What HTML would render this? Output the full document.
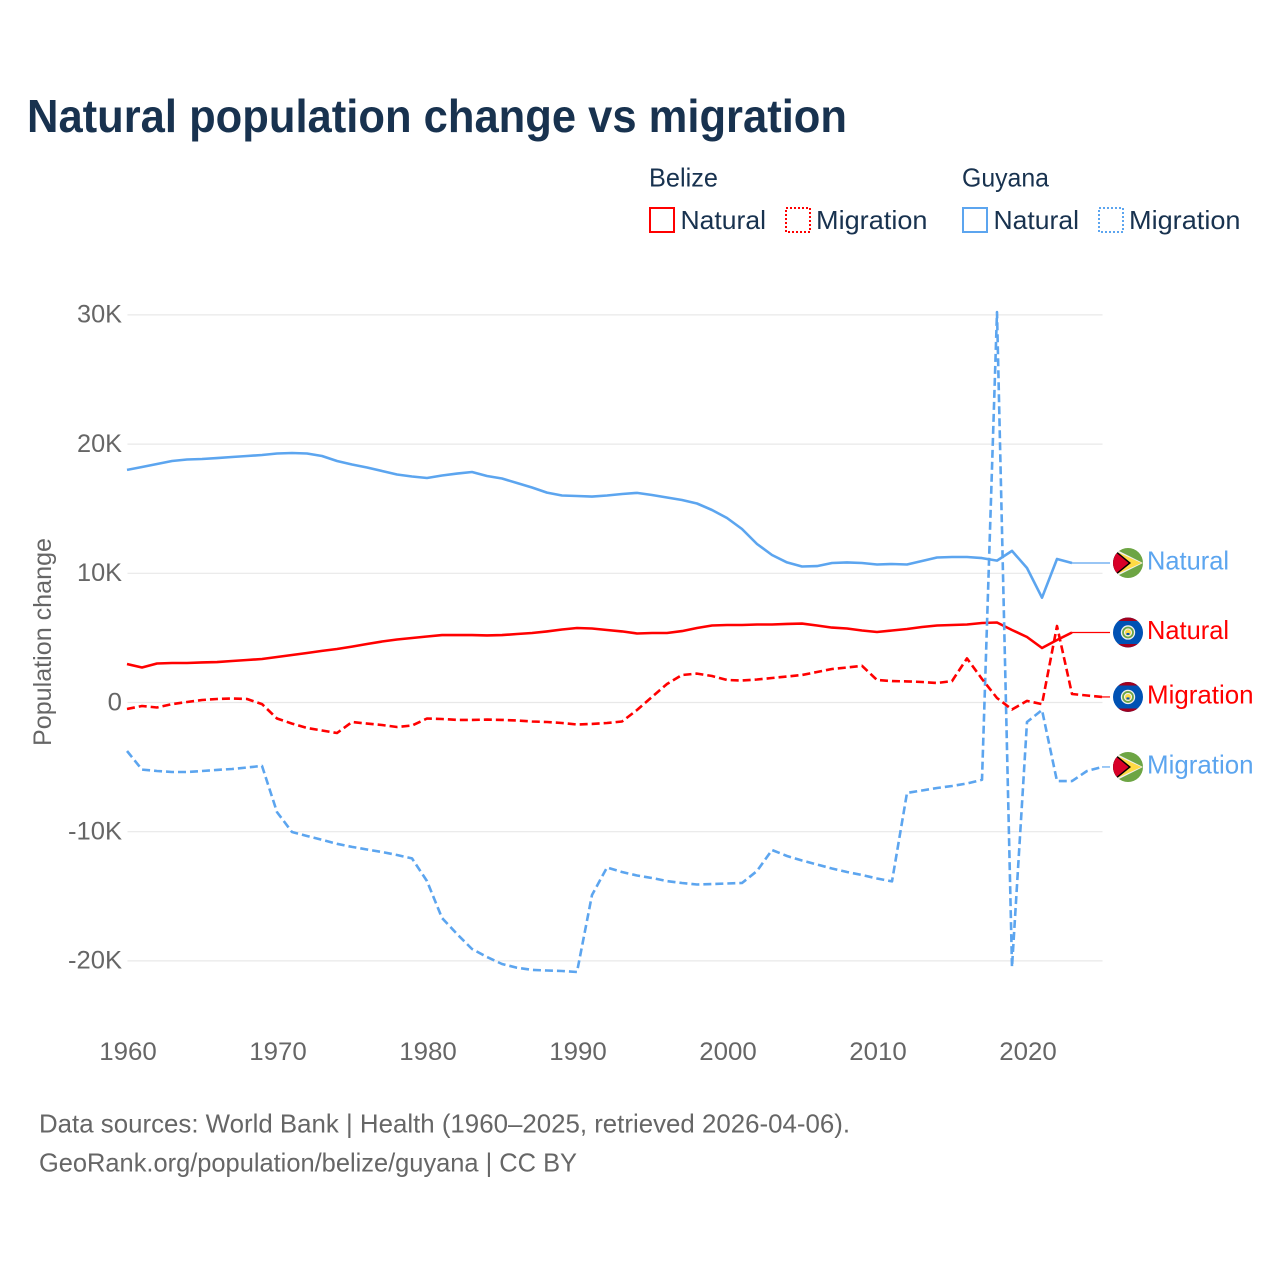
<!DOCTYPE html>
<html lang="en">
<head>
<meta charset="utf-8">
<title>Natural population change vs migration</title>
<style>
html,body{margin:0;padding:0;background:#fff;width:1280px;height:1280px;overflow:hidden}
svg{display:block}
text{font-family:"Liberation Sans",sans-serif}
</style>
</head>
<body>
<svg id="chart" xmlns="http://www.w3.org/2000/svg" width="1280" height="1280" viewBox="0 0 1280 1280">
  <rect width="1280" height="1280" fill="#fff"/>
  <text x="27" y="132" font-size="46" font-weight="700" fill="#18324f" textLength="820" lengthAdjust="spacingAndGlyphs">Natural population change vs migration</text>

  <g font-size="26" fill="#18324f">
    <text x="649" y="186.5" textLength="69" lengthAdjust="spacingAndGlyphs">Belize</text>
    <text x="962" y="186.5" textLength="87" lengthAdjust="spacingAndGlyphs">Guyana</text>
    <g>
      <rect x="650" y="208" width="24" height="24" fill="none" stroke="#ff0000" stroke-width="2"/>
      <text x="680.5" y="229" textLength="85.5" lengthAdjust="spacingAndGlyphs">Natural</text>
    </g>
    <g>
      <rect x="786" y="208" width="24" height="24" fill="none" stroke="#ff0000" stroke-width="2" stroke-dasharray="2 2"/>
      <text x="816" y="229" textLength="111.5" lengthAdjust="spacingAndGlyphs">Migration</text>
    </g>
    <g>
      <rect x="963" y="208" width="24" height="24" fill="none" stroke="#5ca5ef" stroke-width="2"/>
      <text x="993.5" y="229" textLength="85.5" lengthAdjust="spacingAndGlyphs">Natural</text>
    </g>
    <g>
      <rect x="1099" y="208" width="24" height="24" fill="none" stroke="#5ca5ef" stroke-width="2" stroke-dasharray="2 2"/>
      <text x="1129" y="229" textLength="111.5" lengthAdjust="spacingAndGlyphs">Migration</text>
    </g>
  </g>

  <g id="y-grid"></g>
  <g id="y-ticks"></g>
  <g id="x-ticks"></g>
  <text transform="translate(51 642) rotate(-90)" text-anchor="middle" font-size="25" fill="#666" textLength="208" lengthAdjust="spacingAndGlyphs">Population change</text>
  <g id="series"></g>
  <g id="end-labels"></g>

  <g font-size="26" fill="#666">
    <text x="39" y="1132.5" textLength="811" lengthAdjust="spacingAndGlyphs">Data sources: World Bank | Health (1960–2025, retrieved 2026-04-06).</text>
    <text x="39" y="1171.5" textLength="538" lengthAdjust="spacingAndGlyphs">GeoRank.org/population/belize/guyana | CC BY</text>
  </g>
</svg>

<script>
var startYear = 1960;
var xTickYears = [1960, 1970, 1980, 1990, 2000, 2010, 2020];
var yTickValues = [30, 20, 10, 0, -10, -20];
var yTickLabels = ['30K', '20K', '10K', '0', '-10K', '-20K'];

var guyanaNatural = [
  18.0, 18.23, 18.46, 18.69, 18.81, 18.85, 18.92, 19.0, 19.08, 19.16,
  19.27, 19.31, 19.27, 19.08, 18.69, 18.42, 18.19, 17.92, 17.65, 17.49,
  17.38, 17.57, 17.72, 17.84, 17.53, 17.34, 16.99, 16.64, 16.25, 16.02,
  15.98, 15.94, 16.02, 16.14, 16.22, 16.06, 15.87, 15.67, 15.40, 14.90,
  14.28, 13.43, 12.27, 11.42, 10.84, 10.53, 10.56, 10.80, 10.84, 10.80,
  10.68, 10.72, 10.68, 10.95, 11.22, 11.26, 11.26, 11.18, 10.98, 11.73,
  10.41, 8.11, 11.11, 10.80
];
var belizeNatural = [
  2.98, 2.71, 3.02, 3.06, 3.06, 3.10, 3.13, 3.21, 3.29, 3.37,
  3.52, 3.68, 3.83, 3.99, 4.14, 4.33, 4.53, 4.72, 4.88, 4.99,
  5.11, 5.22, 5.22, 5.22, 5.19, 5.22, 5.30, 5.38, 5.50, 5.65,
  5.77, 5.73, 5.61, 5.50, 5.34, 5.38, 5.38, 5.53, 5.77, 5.96,
  6.0, 6.0, 6.04, 6.04, 6.08, 6.11, 5.96, 5.80, 5.73, 5.57,
  5.46, 5.57, 5.69, 5.84, 5.96, 6.0, 6.04, 6.15, 6.19, 5.61,
  5.07, 4.22, 4.84, 5.42
];
var belizeMigration = [
  -0.50, -0.27, -0.39, -0.12, 0.04, 0.19, 0.27, 0.31, 0.27, -0.12,
  -1.24, -1.63, -1.97, -2.17, -2.36, -1.51, -1.63, -1.74, -1.90, -1.78,
  -1.24, -1.28, -1.35, -1.35, -1.32, -1.35, -1.39, -1.47, -1.51, -1.59,
  -1.70, -1.66, -1.59, -1.47, -0.58, 0.43, 1.43, 2.13, 2.24, 2.05,
  1.74, 1.70, 1.78, 1.90, 2.01, 2.13, 2.36, 2.59, 2.71, 2.84,
  1.74, 1.66, 1.63, 1.59, 1.51, 1.66, 3.41, 1.82, 0.35, -0.54,
  0.12, -0.12, 5.92, 0.66, 0.54, 0.43
];
var guyanaMigration = [
  -3.75, -5.19, -5.30, -5.38, -5.38, -5.30, -5.22, -5.15, -5.03, -4.91,
  -8.48, -10.02, -10.33, -10.63, -10.94, -11.18, -11.38, -11.57, -11.80, -12.07,
  -13.82, -16.68, -17.92, -19.08, -19.70, -20.24, -20.53, -20.70, -20.74, -20.78,
  -20.86, -14.90, -12.77, -13.12, -13.39, -13.58, -13.82, -13.97, -14.09, -14.05,
  -14.01, -13.97, -13.04, -11.42, -11.88, -12.23, -12.54, -12.85, -13.12, -13.35,
  -13.62, -13.85, -7.00, -6.81, -6.62, -6.46, -6.27, -5.98, 30.22, -20.47,
  -1.51, -0.58, -6.08, -6.08, -5.30, -4.99
];

var NS = 'http://www.w3.org/2000/svg';
var RED = '#ff0000';
var BLUE = '#5ca5ef';
var GREY = '#666666';

function xScale(year) { return 127 + (year - 1960) * 15; }
function yScale(value) { return 702.5 - value * 12.92; }

function make(parent, tag, attrs) {
  var el = document.createElementNS(NS, tag);
  for (var k in attrs) { el.setAttribute(k, attrs[k]); }
  parent.appendChild(el);
  return el;
}
function labelWidth(s) {
  var w = 0;
  for (var i = 0; i < s.length; i++) {
    var c = s.charAt(i);
    w += c === 'K' ? 16.4 : c === '-' ? 9 : 14.3;
  }
  return w;
}

var gridGroup = document.getElementById('y-grid');
var yTickGroup = document.getElementById('y-ticks');
yTickValues.forEach(function (value, i) {
  var y = yScale(value);
  var line = make(gridGroup, 'line', { x1: 127.5, x2: 1102.5, y1: y, y2: y, stroke: '#e8e8e8', 'stroke-width': 1.2 });
  
  
  var label = make(yTickGroup, 'text', { x: 122, y: y + 7.8, 'text-anchor': 'end', 'font-size': 25, fill: GREY, textLength: labelWidth(yTickLabels[i]), lengthAdjust: 'spacingAndGlyphs' });
  label.textContent = yTickLabels[i];
  
  
});

var xTickGroup = document.getElementById('x-ticks');
xTickYears.forEach(function (year) {
  var label = make(xTickGroup, 'text', { x: xScale(year) + 1, y: 1060, 'text-anchor': 'middle', 'font-size': 25, fill: GREY, textLength: 57.5, lengthAdjust: 'spacingAndGlyphs' });
  label.textContent = String(year);
  
  
});

function pathFrom(values) {
  return values.map(function (v, i) {
    return (i ? 'L' : 'M') + xScale(startYear + i).toFixed(1) + ' ' + yScale(v).toFixed(1);
  }).join(' ');
}

function flagGuyana(g) {
  make(g, 'circle', { cx: 0, cy: 0, r: 15, fill: '#6da544' });
  make(g, 'path', { d: 'M15 0 L-9 -12 A15 15 0 0 0 -9 12 Z', fill: '#f0f0f0' });
  make(g, 'path', { d: 'M13.5 0 L-9.5 -10.5 L-9.5 10.5 Z', fill: '#ffda44' });
  make(g, 'path', { d: 'M3 0 L-10.4 -10.8 A15 15 0 0 0 -10.4 10.8 Z', fill: '#000000' });
  make(g, 'path', { d: 'M0.6 0 L-11.3 -9.8 A15 15 0 0 0 -11.3 9.8 Z', fill: '#d80027' });
}
function flagBelize(g) {
  make(g, 'circle', { cx: 0, cy: 0, r: 15, fill: '#0052b4' });
  make(g, 'path', { d: 'M-9.6 -11.5 A15 15 0 0 1 9.6 -11.5 Z', fill: '#a2001d' });
  make(g, 'path', { d: 'M-9.6 11.5 A15 15 0 0 0 9.6 11.5 Z', fill: '#a2001d' });
  make(g, 'circle', { cx: 0, cy: 0, r: 7.2, fill: '#f0f0f0' });
  make(g, 'circle', { cx: 0, cy: 0, r: 5, fill: 'none', stroke: '#6da544', 'stroke-width': 1.8 });
  make(g, 'circle', { cx: 0, cy: 0, r: 3, fill: '#ffda44' });
  make(g, 'rect', { x: -1.5, y: 0.5, width: 3, height: 2, fill: '#0052b4' });
}

var seriesGroup = document.getElementById('series');
var endGroup = document.getElementById('end-labels');
var CONNECT_X = 1110;

var guyanaNaturalLine = make(seriesGroup, 'path', { d: pathFrom(guyanaNatural), fill: 'none', stroke: BLUE, 'stroke-width': 2.6, 'stroke-linejoin': 'round' });



var belizeNaturalLine = make(seriesGroup, 'path', { d: pathFrom(belizeNatural), fill: 'none', stroke: RED, 'stroke-width': 2.6, 'stroke-linejoin': 'round' });



var guyanaMigrationLine = make(seriesGroup, 'path', { d: pathFrom(guyanaMigration), fill: 'none', stroke: BLUE, 'stroke-width': 2.6, 'stroke-dasharray': '8 4', 'stroke-linejoin': 'round' });



var belizeMigrationLine = make(seriesGroup, 'path', { d: pathFrom(belizeMigration), fill: 'none', stroke: RED, 'stroke-width': 2.6, 'stroke-dasharray': '8 4', 'stroke-linejoin': 'round' });



function endLabel(values, colour, word, drawFlag, width) {
  var lastX = xScale(startYear + values.length - 1);
  var y = yScale(values[values.length - 1]);
  var connector = make(endGroup, 'line', { x1: lastX, x2: CONNECT_X, y1: y, y2: y, stroke: colour, 'stroke-width': 1.2 });
  var flag = make(endGroup, 'g', { transform: 'translate(1128 ' + y + ')' });
  drawFlag(flag);
  var text = make(endGroup, 'text', { x: 1147, y: y + 6.5, 'font-size': 26, fill: colour, textLength: width, lengthAdjust: 'spacingAndGlyphs' });
  text.textContent = word;
  return { connector: connector, flag: flag, text: text };
}

var endGuyanaNatural = endLabel(guyanaNatural, BLUE, 'Natural', flagGuyana, 82);







var endBelizeNatural = endLabel(belizeNatural, RED, 'Natural', flagBelize, 82);







var endBelizeMigration = endLabel(belizeMigration, RED, 'Migration', flagBelize, 106.5);







var endGuyanaMigration = endLabel(guyanaMigration, BLUE, 'Migration', flagGuyana, 106.5);






</script>
</body>
</html>
